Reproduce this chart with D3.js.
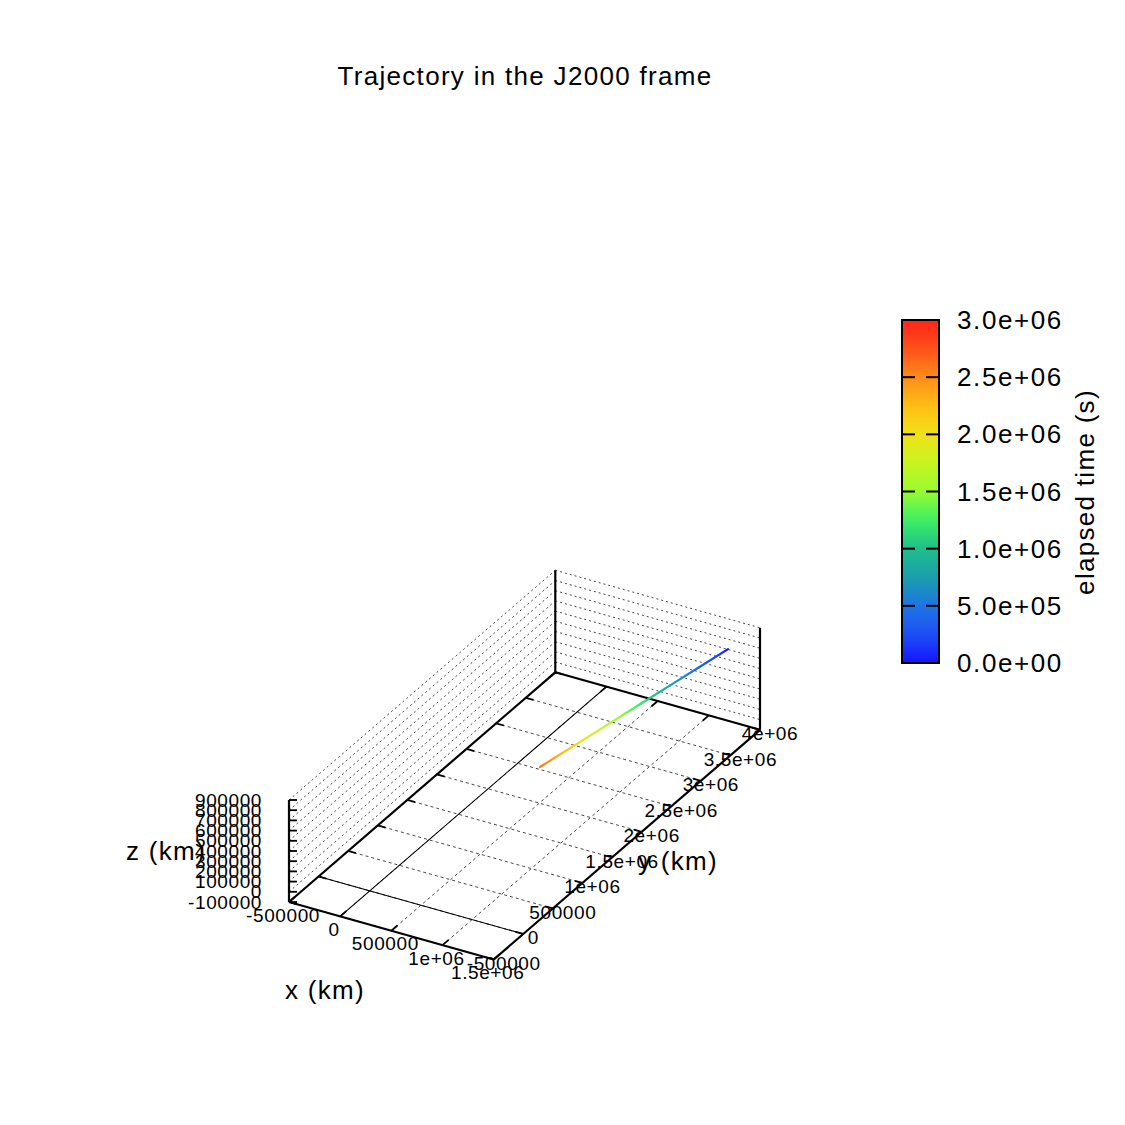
<!DOCTYPE html>
<html><head><meta charset="utf-8">
<script src="https://cdn.jsdelivr.net/npm/d3@7"></script>
<style>body{margin:0;background:#fff}svg{display:block}</style>
</head><body>
<script>
// ---- data ----
const timeS = [0, 4e5, 8e5, 1.2e6, 1.6e6, 2.0e6, 2.4e6, 2.6e6];
const xKm   = [1385000, 1273000, 1161000, 1049000, 938000, 826000, 714000, 658000];
const yKm   = [3658000, 3363000, 3067000, 2772000, 2476000, 2181000, 1886000, 1738000];
const zKm   = [830000, 768000, 707000, 645000, 584000, 522000, 461000, 430000];

const xTicks = [-500000, 0, 500000, 1000000, 1500000];
const xTickLabels = ["-500000", "0", "500000", "1e+06", "1.5e+06"];
const yTicks = [-500000, 0, 500000, 1000000, 1500000, 2000000, 2500000, 3000000, 3500000, 4000000];
const yTickLabels = ["-500000", "0", "500000", "1e+06", "1.5e+06", "2e+06", "2.5e+06", "3e+06", "3.5e+06", "4e+06"];
const zTicks = [-100000, 0, 100000, 200000, 300000, 400000, 500000, 600000, 700000, 800000, 900000];
const zTickLabels = ["-100000", "0", "100000", "200000", "300000", "400000", "500000", "600000", "700000", "800000", "900000"];
const cbTicks = [0, 5e5, 1e6, 1.5e6, 2e6, 2.5e6, 3e6];
const cbTickLabels = ["0.0e+00", "5.0e+05", "1.0e+06", "1.5e+06", "2.0e+06", "2.5e+06", "3.0e+06"];
const paletteStops = [0, 2.5e5, 5e5, 7.5e5, 1e6, 1.25e6, 1.5e6, 1.75e6, 2e6, 2.25e6, 2.5e6, 2.75e6, 3e6];
const paletteColors = ["#1414ff", "#1e50f5", "#1e74e4", "#1aa0aa", "#1ebe8c", "#3cf064", "#98fa32", "#c8f51e", "#f0e119", "#ffbe14", "#ff8c19", "#ff5019", "#ff2319"];

const title = "Trajectory in the J2000 frame";
const xLabel = "x (km)", yLabel = "y (km)", zLabel = "z (km)", cbLabel = "elapsed time (s)";

// ---- layout ----
const W = 1125, H = 1125;
const FONT = "'Liberation Sans', Arial, Helvetica, sans-serif";
const O = [289, 902];              // screen position of (xmin, ymin, zmin)
const EX = [204.7, 57.5];          // screen vector spanning the x range
const EY = [266.3, -229.7];        // screen vector spanning the y range
const EZ = [0, -102];              // screen vector spanning the z range

const sx = d3.scaleLinear().domain([-500000, 1500000]).range([0, 1]);
const sy = d3.scaleLinear().domain([-500000, 4000000]).range([0, 1]);
const sz = d3.scaleLinear().domain([-100000, 900000]).range([0, 1]);
function P(x, y, z) {
  const a = sx(x), b = sy(y), c = sz(z);
  return [O[0] + a*EX[0] + b*EY[0] + c*EZ[0], O[1] + a*EX[1] + b*EY[1] + c*EZ[1]];
}
const [x0, x1] = sx.domain(), [y0, y1] = sy.domain(), [z0, z1] = sz.domain();

const color = d3.scaleLinear().domain(paletteStops).range(paletteColors).clamp(true);

const svg = d3.select("body").append("svg").attr("width", W).attr("height", H)
  .style("font-family", FONT);
const defs = svg.append("defs");

function line(p, q, stroke, width, dash) {
  const l = svg.append("line").attr("x1", p[0]).attr("y1", p[1]).attr("x2", q[0]).attr("y2", q[1])
    .attr("stroke", stroke).attr("stroke-width", width);
  if (dash) l.attr("stroke-dasharray", dash);
  return l;
}
function text(x, y, s, size, spacing, anchor) {
  return svg.append("text").attr("x", x).attr("y", y).text(s)
    .attr("font-size", size).attr("letter-spacing", spacing)
    .attr("text-anchor", anchor || "middle").attr("dominant-baseline", "central").attr("fill", "#000");
}

const GRID = "#333", GDASH = "2,3";
// wall grids (z levels)
zTicks.forEach(z => {
  if (z === z0) return;
  line(P(x0, y0, z), P(x0, y1, z), GRID, 0.9, GDASH);
  line(P(x0, y1, z), P(x1, y1, z), GRID, 0.9, GDASH);
});
// base grids
xTicks.forEach(x => { if (x !== x0 && x !== x1) line(P(x, y0, z0), P(x, y1, z0), GRID, 0.9, "3,3"); });
yTicks.forEach(y => { if (y !== y0 && y !== y1) line(P(x0, y, z0), P(x1, y, z0), GRID, 0.9, "3,3"); });
// zero axes
line(P(0, y0, z0), P(0, y1, z0), "#000", 1.1);
line(P(x0, 0, z0), P(x1, 0, z0), "#000", 1.1);

// border
const BW = 2.2;
line(P(x0, y0, z0), P(x1, y0, z0), "#000", BW);
line(P(x1, y0, z0), P(x1, y1, z0), "#000", BW);
line(P(x1, y1, z0), P(x0, y1, z0), "#000", BW);
line(P(x0, y1, z0), P(x0, y0, z0), "#000", BW);
line(P(x0, y0, z0), P(x0, y0, z1), "#000", BW);
line(P(x0, y1, z0), P(x0, y1, z1), "#000", BW);
line(P(x1, y1, z0), P(x1, y1, z1), "#000", BW);

// ticks
const TL = 8;
const nEX = [EX[0]/Math.hypot(...EX), EX[1]/Math.hypot(...EX)];
const nEY = [EY[0]/Math.hypot(...EY), EY[1]/Math.hypot(...EY)];
xTicks.forEach(x => {
  const p = P(x, y0, z0); line(p, [p[0] + TL*nEY[0], p[1] + TL*nEY[1]], "#000", 1.8);
  const q = P(x, y1, z0); line(q, [q[0] - TL*nEY[0], q[1] - TL*nEY[1]], "#000", 1.8);
});
yTicks.forEach(y => {
  const p = P(x1, y, z0); line(p, [p[0] - TL*nEX[0], p[1] - TL*nEX[1]], "#000", 1.8);
  const q = P(x0, y, z0); line(q, [q[0] + TL*nEX[0], q[1] + TL*nEX[1]], "#000", 1.8);
});
zTicks.forEach(z => {
  const p = P(x0, y0, z); line(p, [p[0] + TL, p[1]], "#000", 1.8);
});

// tick labels
const TS = 19, TSP = 0.6;
xTicks.forEach((x, i) => { const p = P(x, y0, z0); text(p[0] - 6, p[1] + 13, xTickLabels[i], TS, TSP); });
yTicks.forEach((y, i) => { const p = P(x1, y, z0); text(p[0] + 10, p[1] + 4, yTickLabels[i], TS, TSP); });
zTicks.forEach((z, i) => { const p = P(x0, y0, z); text(p[0] - 27, p[1], zTickLabels[i], TS, TSP, "end"); });

// trajectory
const pts = timeS.map((t, i) => ({ t, p: P(xKm[i], yKm[i], zKm[i]) }));
for (let i = 0; i < pts.length - 1; i++) {
  const a = pts[i], b = pts[i + 1];
  const gid = "seg" + i;
  const g = defs.append("linearGradient").attr("id", gid).attr("gradientUnits", "userSpaceOnUse")
    .attr("x1", a.p[0]).attr("y1", a.p[1]).attr("x2", b.p[0]).attr("y2", b.p[1]);
  d3.range(0, 1.0001, 0.1).forEach(f => g.append("stop").attr("offset", f)
    .attr("stop-color", color(a.t + f*(b.t - a.t))));
  line(a.p, b.p, `url(#${gid})`, 2.2).attr("stroke-linecap", "round");
}

// axis labels and title
const MS = 26, MSP = 1.3;
text(325, 990, xLabel, MS, MSP);
text(678, 861, yLabel, MS, MSP);
text(166, 851, zLabel, MS, MSP);
text(525, 76, title, MS, MSP);

// colorbar
const cb = { x: 902, w: 37, top: 320, bottom: 663 };
const cs = d3.scaleLinear().domain([0, 3e6]).range([cb.bottom, cb.top]);
const cg = defs.append("linearGradient").attr("id", "cbgrad").attr("x1", 0).attr("y1", 1).attr("x2", 0).attr("y2", 0);
d3.range(0, 3e6 + 1, 1e5).forEach(v => cg.append("stop").attr("offset", v/3e6).attr("stop-color", color(v)));
svg.append("rect").attr("x", cb.x).attr("y", cb.top).attr("width", cb.w).attr("height", cb.bottom - cb.top)
  .attr("fill", "url(#cbgrad)").attr("stroke", "#000").attr("stroke-width", 2);
cbTicks.forEach((v, i) => {
  const y = cs(v);
  line([cb.x, y], [cb.x + 13, y], "#000", 2);
  line([cb.x + cb.w - 13, y], [cb.x + cb.w, y], "#000", 2);
  text(957, y, cbTickLabels[i], MS, 1.6, "start");
});
text(0, 0, cbLabel, MS, MSP).attr("transform", "translate(1085,492) rotate(-90)");
</script>
</body></html>
